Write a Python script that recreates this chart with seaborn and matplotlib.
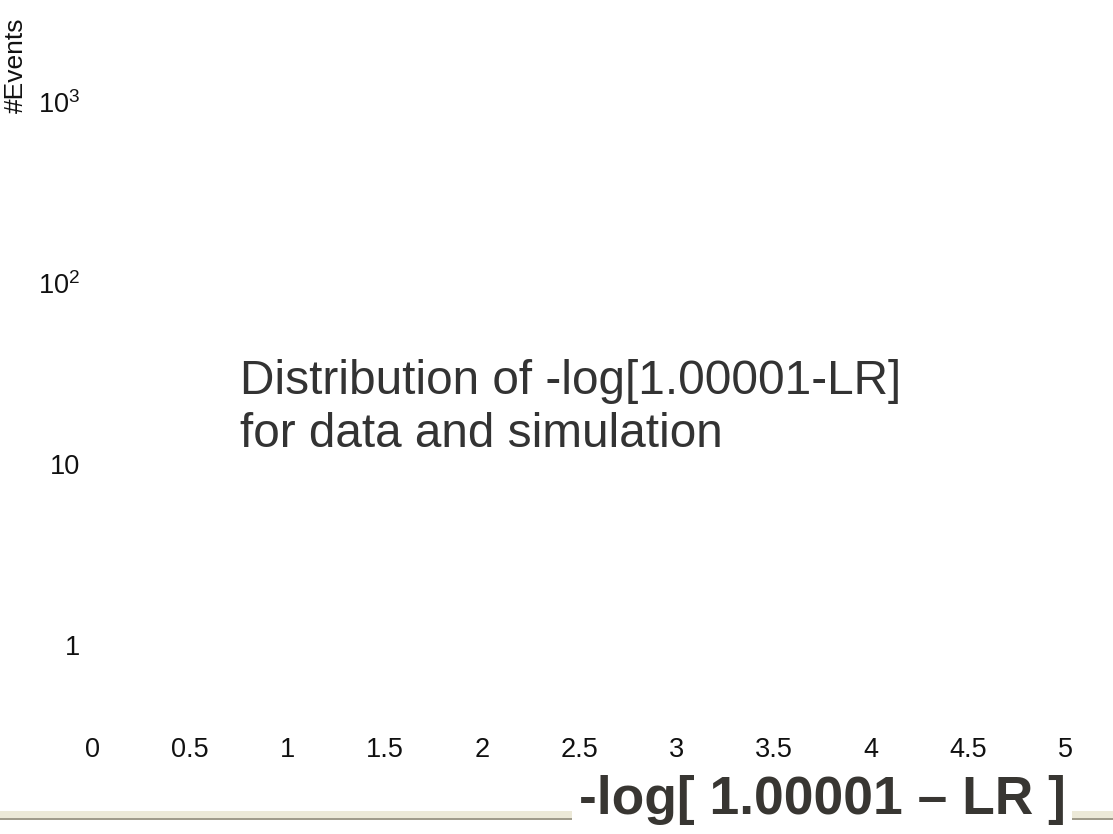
import matplotlib
matplotlib.use("Agg")
import matplotlib.pyplot as plt
import seaborn as sns
from matplotlib.patches import Rectangle

sns.set_style("white")
plt.rcParams["font.family"] = ["Liberation Sans", "DejaVu Sans"]
plt.rcParams["mathtext.default"] = "regular"

x_ticks = [0, 0.5, 1, 1.5, 2, 2.5, 3, 3.5, 4, 4.5, 5]
x_labels = ["0", "0.5", "1", "1.5", "2", "2.5", "3", "3.5", "4", "4.5", "5"]
y_ticks = [1, 10, 100, 1000]
y_labels = ["1", "10", "$10^{2}$", "$10^{3}$"]

title_text = "Distribution of -log[1.00001-LR]\nfor data and simulation"
x_title = "-log[ 1.00001 \u2013 LR ]"
y_title = "#Events"

W, H = 1113, 834
fig = plt.figure(figsize=(W / 100, H / 100), dpi=100)
ax = fig.add_axes([93 / W, 1 - 720 / H, 972 / W, 680 / H])

ax.set_xlim(0, 5)
ax.set_yscale("log")
ax.set_ylim(10 ** -0.414, 10 ** 3.343)
ax.set_xticks(x_ticks)
ax.set_xticklabels(x_labels)
ax.set_yticks(y_ticks)
ax.set_yticklabels(y_labels)
ax.minorticks_off()
ax.tick_params(axis="both", length=0, labelsize=19.5, colors="#111111")
ax.tick_params(axis="x", pad=12)
ax.tick_params(axis="y", pad=9)
sns.despine(ax=ax, left=True, bottom=True)

ax.text(240 / W, 1 - 408 / H, title_text, transform=fig.transFigure,
        fontsize=34.4, color="#333333", ha="left", va="center", linespacing=1.22)

# window frame strip at the bottom
fig.patches.append(Rectangle((0, 1 - 818 / H), 1, 7 / H, transform=fig.transFigure,
                             facecolor="#ece9d8", edgecolor="none"))
fig.patches.append(Rectangle((0, 1 - 819.5 / H), 1, 1.5 / H, transform=fig.transFigure,
                             facecolor="#a09c8c", edgecolor="none"))

fig.text(822 / W, 1 - 800 / H, x_title, fontsize=38.4, fontweight="bold",
         color="#383632", ha="center", va="center",
         bbox=dict(facecolor="white", edgecolor="none", pad=5))
fig.text(16 / W, 1 - 65 / H, y_title, fontsize=19, rotation=90,
         color="#111111", ha="center", va="center")

fig.savefig("out.png", dpi=100)
